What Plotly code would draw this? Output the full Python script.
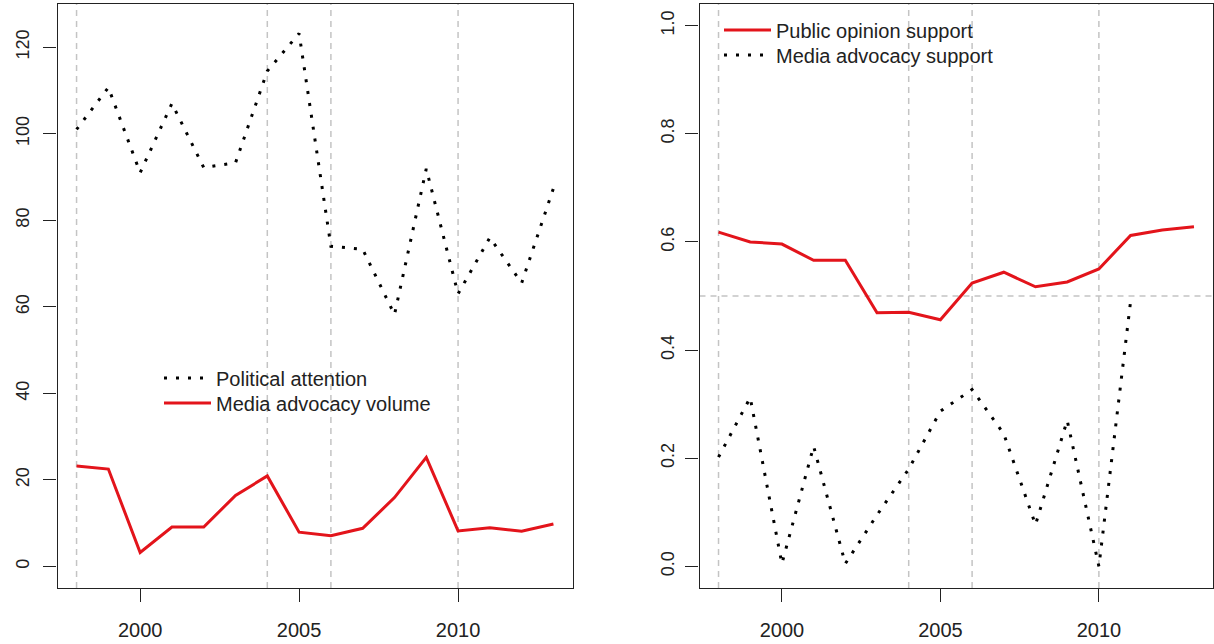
import plotly.graph_objects as go

# Annual series, 1998-2013
years = list(range(1998, 2014))

political_attention = [101, 110.7, 91, 107, 92.2, 93.3, 114.5, 123.2,
                       74, 73.3, 58.2, 91.9, 63, 76, 65.5, 87.4]
media_volume = [23.2, 22.5, 3.2, 9.1, 9.1, 16.4, 20.9, 7.9,
                7.1, 8.8, 15.9, 25.2, 8.2, 8.9, 8.1, 9.8]

public_support = [0.618, 0.600, 0.596, 0.566, 0.566, 0.469, 0.470, 0.456,
                  0.524, 0.544, 0.517, 0.526, 0.550, 0.612, 0.622, 0.628]
media_support = [0.202, 0.312, 0.005, 0.222, 0.005, 0.095, 0.180, 0.287,
                 0.327, 0.245, 0.077, 0.270, 0.0, 0.490, None, None]

# Reference markers
event_years = [1998, 2004, 2006, 2010]
majority_line = 0.5

x_ticks = [2000, 2005, 2010]
left_y_ticks = [0, 20, 40, 60, 80, 100, 120]
right_y_ticks = [0.0, 0.2, 0.4, 0.6, 0.8, 1.0]

RED = "#e3141b"
INK = "#222222"
GRID = "#c4c4c4"
FONT = "Liberation Sans, Arial, sans-serif"
W, H = 1214, 644

fig = go.Figure()

fig.add_trace(go.Scatter(
    x=years, y=political_attention, name="Political attention",
    mode="lines", line=dict(color="black", width=3, dash="3px,9px"),
    xaxis="x", yaxis="y", legend="legend"))
fig.add_trace(go.Scatter(
    x=years, y=media_volume, name="Media advocacy volume",
    mode="lines", line=dict(color=RED, width=3),
    xaxis="x", yaxis="y", legend="legend2"))

fig.add_trace(go.Scatter(
    x=years, y=public_support, name="Public opinion support",
    mode="lines", line=dict(color=RED, width=3),
    xaxis="x2", yaxis="y2", legend="legend3"))
fig.add_trace(go.Scatter(
    x=years, y=media_support, name="Media advocacy support",
    mode="lines", line=dict(color="black", width=3, dash="3px,9px"),
    connectgaps=False, xaxis="x2", yaxis="y2", legend="legend4"))

# Dashed grey markers for key years in both panels
shapes = []
for xr, yr in (("x", "y domain"), ("x2", "y2 domain")):
    for yv in event_years:
        shapes.append(dict(type="line", xref=xr, yref=yr, x0=yv, x1=yv, y0=0, y1=1,
                           line=dict(color=GRID, width=1.5, dash="6px,5px"), layer="below"))
shapes.append(dict(type="line", xref="x2 domain", yref="y2", x0=0, x1=1,
                   y0=majority_line, y1=majority_line,
                   line=dict(color=GRID, width=1.5, dash="6px,5px"), layer="below"))

y_dom = [1 - 588 / H, 1 - 4 / H]
axis_base = dict(showline=True, mirror=True, linecolor=INK, linewidth=1.2,
                 ticks="outside", ticklen=13, tickwidth=1.2, tickcolor=INK,
                 showgrid=False, zeroline=False)
x_font = dict(family=FONT, size=20, color=INK)
y_font = dict(family=FONT, size=18, color=INK)


def legend_at(px_x, px_y):
    # one entry per legend box so each row sits at its own position
    return dict(x=px_x / W, y=1 - px_y / H, xanchor="left", yanchor="middle",
                bgcolor="rgba(0,0,0,0)", borderwidth=0, tracegroupgap=0,
                itemwidth=47, font=dict(family=FONT, size=20, color=INK))


fig.update_layout(
    width=W, height=H,
    margin=dict(l=0, r=0, t=0, b=0),
    paper_bgcolor="white", plot_bgcolor="white",
    font=dict(family=FONT, size=19, color=INK),
    showlegend=True,
    hovermode=False,
    shapes=shapes,
    xaxis=dict(domain=[57.5 / W, 572.5 / W], range=[1997.4, 2013.6],
               tickvals=x_ticks, anchor="y", ticklabelstandoff=11,
               tickfont=x_font, **axis_base),
    yaxis=dict(domain=y_dom, range=[-5, 130], tickvals=left_y_ticks,
               tickangle=-90, anchor="x", ticklabelstandoff=7,
               tickfont=y_font, **axis_base),
    xaxis2=dict(domain=[699.5 / W, 1213 / W], range=[1997.4, 2013.6],
                tickvals=x_ticks, anchor="y2", ticklabelstandoff=11,
                tickfont=x_font, **axis_base),
    yaxis2=dict(domain=y_dom, range=[-0.04, 1.04], tickvals=right_y_ticks,
                tickformat=".1f", tickangle=-90, anchor="x2",
                ticklabelstandoff=4, tickfont=y_font, **axis_base),
    legend=legend_at(159, 378),
    legend2=legend_at(159, 403),
    legend3=legend_at(719, 30),
    legend4=legend_at(719, 55),
)

fig.write_html("out.html")
